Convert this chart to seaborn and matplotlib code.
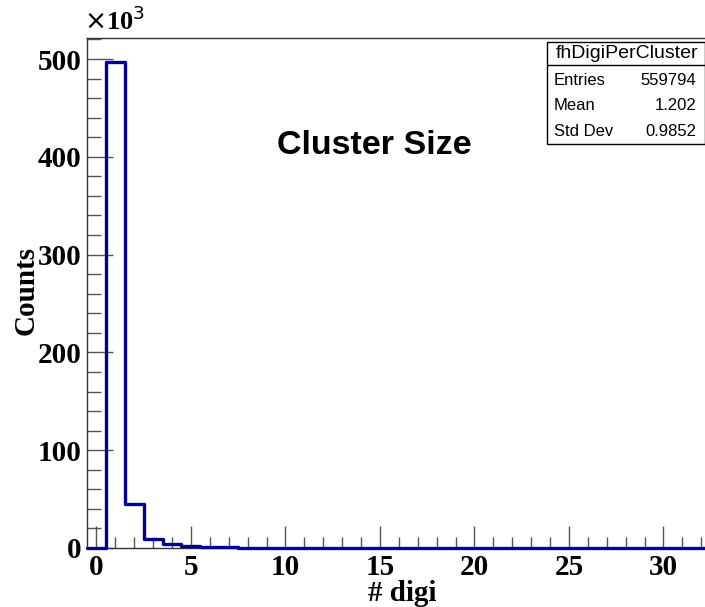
import numpy as np
import pandas as pd
import seaborn as sns
import matplotlib
matplotlib.use("Agg")
import matplotlib.pyplot as plt
from matplotlib.ticker import MultipleLocator, FuncFormatter

# Number of digis per cluster (bin centres) and entries per bin
n_digi = list(range(0, 33))
counts = [0, 496500, 45500, 9300, 4400, 1900, 950, 520, 320, 210, 150,
          110, 80, 60, 45, 35, 27, 20, 15, 12, 10, 8, 6, 5, 4, 3, 3, 2, 2, 1, 1, 1, 1]

hist_name = "fhDigiPerCluster"
stat_labels = ["Entries", "Mean", "Std Dev"]
stat_values = ["559794", "1.202", "0.9852"]
title = "Cluster Size"
x_label = "# digi"
y_label = "Counts"

sns.set_style("ticks")
plt.rcParams["font.family"] = ["Liberation Serif", "DejaVu Serif"]
plt.rcParams["text.color"] = "black"

fig = plt.figure(figsize=(7.05, 6.07), dpi=100)
ax = fig.add_axes([0.1234, 0.0972, 0.8766, 0.8402])

df = pd.DataFrame({"n_digi": n_digi, "counts": counts})
sns.histplot(data=df, x="n_digi", weights="counts", binwidth=1,
             binrange=(-0.5, 32.5), element="step", fill=False,
             color="#000099", linewidth=2.4, ax=ax, zorder=5)
for art in ax.patches + ax.lines + list(ax.collections):
    art.set_clip_on(False)

ax.set_xlim(-0.5, 32.2)
ax.set_ylim(0, 521500)

ax.xaxis.set_major_locator(MultipleLocator(5))
ax.xaxis.set_minor_locator(MultipleLocator(1))
ax.yaxis.set_major_locator(MultipleLocator(100000))
ax.yaxis.set_minor_locator(MultipleLocator(20000))
ax.yaxis.set_major_formatter(FuncFormatter(lambda v, p: f"{v/1000:.0f}"))

ax.tick_params(axis="both", which="both", direction="in", colors="#555555",
               labelcolor="black", width=1)
ax.tick_params(axis="x", which="major", length=16, labelsize=21, pad=4)
ax.tick_params(axis="x", which="minor", length=8)
ax.tick_params(axis="y", which="major", length=19, labelsize=21, pad=4)
ax.tick_params(axis="y", which="minor", length=10)
for lab in ax.get_xticklabels() + ax.get_yticklabels():
    lab.set_fontweight("bold")

for side in ["left", "top", "bottom"]:
    ax.spines[side].set_visible(True)
    ax.spines[side].set_color("#333333")
    ax.spines[side].set_linewidth(1.0)
ax.spines["right"].set_visible(False)

ax.set_xlabel(x_label, fontsize=21, fontweight="bold", color="black")
ax.xaxis.set_label_coords(0.51, -0.063)
ax.set_ylabel(y_label, fontsize=21, fontweight="bold", color="black")
ax.yaxis.set_label_coords(-0.077, 0.505)

fig.text(0.119, 0.943, r"$\times$10$^{3}$", fontsize=19, fontweight="bold",
         ha="left", va="bottom", color="black")

ax.text(0.465, 0.789, title, transform=ax.transAxes, fontsize=24.5,
        fontweight="bold", family="Liberation Sans", ha="center", va="center",
        color="black")

# Statistics box
bx0, bx1 = 547 / 705, 1.0
by0, by1 = 1 - 144 / 607, 1 - 42 / 607
fig.patches.append(plt.Rectangle((bx0, by0), bx1 - bx0, by1 - by0,
                                 transform=fig.transFigure, fill=True,
                                 facecolor="white", edgecolor="black", lw=1))
row_h = (by1 - by0) / 4
fig.add_artist(plt.Line2D([bx0, bx1], [by1 - row_h * 0.9, by1 - row_h * 0.9],
                          transform=fig.transFigure, color="black", lw=1))
fig.text((bx0 + bx1) / 2 + 0.002, by1 - row_h * 0.45, hist_name,
         family="Liberation Sans", fontsize=14, ha="center", va="center")
for i, (lab, val) in enumerate(zip(stat_labels, stat_values)):
    yc = by1 - row_h * (i + 1.5)
    fig.text(bx0 + 0.010, yc, lab, family="Liberation Sans", fontsize=12,
             ha="left", va="center")
    fig.text(bx1 - 0.012, yc, val, family="Liberation Sans", fontsize=12,
             ha="right", va="center")

fig.savefig("out.png", dpi=100)
